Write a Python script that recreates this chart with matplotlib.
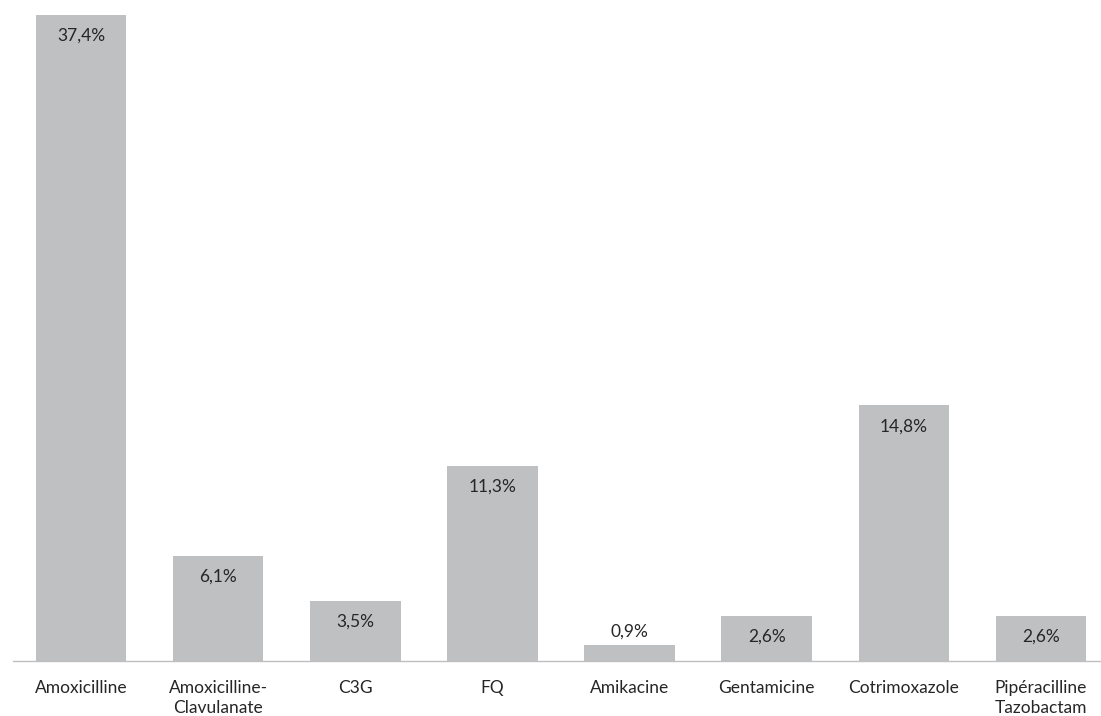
import numpy as np
from matplotlib import pyplot as plt

categories = ["Amoxicilline", "Amoxicilline-\nClavulanate", "C3G", "FQ", "Amikacine",
              "Gentamicine", "Cotrimoxazole", "Pipéracilline\nTazobactam"]
values = [37.4, 6.1, 3.5, 11.3, 0.9, 2.6, 14.8, 2.6]
labels = ["37,4%", "6,1%", "3,5%", "11,3%", "0,9%", "2,6%", "14,8%", "2,6%"]

plt.rcParams['font.family'] = ['Lato', 'DejaVu Sans']

fig = plt.figure(figsize=(11.01, 7.16), dpi=100)
ax = fig.add_axes([12.5/1101, 55/716, 1097/1101, 646/716])

x = np.arange(len(categories))
ax.bar(x, values, width=0.66, color="#bfc0c2", zorder=2)

for xi, v, lab in zip(x, values, labels):
    if v > 2:
        ax.annotate(lab, (xi, v), xytext=(0, -15), textcoords="offset points",
                    ha="center", va="center", fontsize=12.5, color="#262626")
    else:
        ax.annotate(lab, (xi, v), xytext=(0, 10), textcoords="offset points",
                    ha="center", va="center", fontsize=12.5, color="#262626")

ax.set_xlim(-0.5, len(categories) - 0.5)
ax.set_ylim(0, 37.4)
ax.set_xticks(x)
ax.set_xticklabels(categories, fontsize=12.5, color="#262626", linespacing=1.25, va="top")
ax.tick_params(axis="x", length=0, pad=14)
ax.set_yticks([])
for s in ["top", "right", "left"]:
    ax.spines[s].set_visible(False)
ax.spines["bottom"].set_color("#bfbfbf")
ax.spines["bottom"].set_linewidth(1)

fig.savefig("out.png", dpi=100)
